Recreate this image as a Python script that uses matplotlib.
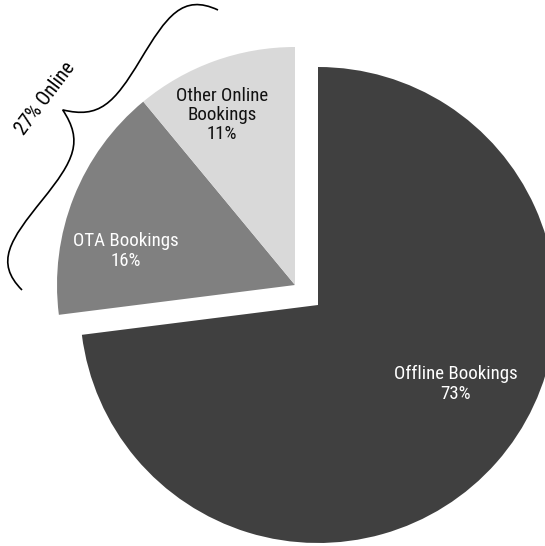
import matplotlib
matplotlib.use("Agg")
import matplotlib.pyplot as plt
from matplotlib.path import Path
from matplotlib.patches import PathPatch
from matplotlib.font_manager import FontProperties, fontManager
import numpy as np

# Booking channel shares (%)
categories = ["Offline Bookings", "OTA Bookings", "Other Online Bookings"]
shares = [73, 16, 11]
label_texts = ["Offline Bookings\n73%", "OTA Bookings\n16%", "Other Online\nBookings\n11%"]
online_label = "27% Online"

colors = ["#404040", "#808080", "#d9d9d9"]
text_colors = ["#ffffff", "#ffffff", "#111111"]


def pick_font():
    """Prefer a narrow sans face; fall back to Liberation Sans."""
    wanted = ["liberationsansnarrow-regular", "arialnarrow", "robotocondensed-regular",
              "opensans_condensed-regular", "opensanscondensed-regular",
              "opensans-condensedregular", "dejavusanscondensed."]
    files = {f.fname.lower().replace(" ", "").split("/")[-1]: f for f in fontManager.ttflist}
    for key in wanted:
        for fn, f in files.items():
            if fn.startswith(key) and "bold" not in fn and "italic" not in fn:
                return FontProperties(fname=f.fname), True
    for fn, f in files.items():
        if ("narrow" in fn or "condensed" in fn) and "bold" not in fn \
                and "italic" not in fn and "light" not in fn and "oblique" not in fn:
            return FontProperties(fname=f.fname), True
    return FontProperties(family="Liberation Sans"), False


fp, narrow = pick_font()
fsize = 13.6 if narrow else 12.2

W, H = 545, 546
fig = plt.figure(figsize=(W / 100, H / 100), dpi=100)
ax = fig.add_axes([0, 0, 1, 1])

center = (318, H - 305)
radius = 238
wedges, _ = ax.pie(shares, colors=colors, startangle=90, counterclock=False,
                   center=center, radius=radius, frame=False,
                   wedgeprops=dict(linewidth=0))

# pull the two online slices out together as one group
offset = (-23, 20)
for w in wedges[1:]:
    w.set_center((center[0] + offset[0], center[1] + offset[1]))

ax.set_xlim(0, W)
ax.set_ylim(0, H)
ax.set_aspect("equal")
ax.axis("off")

label_pos = [(456, H - 384), (126, H - 251), (222, H - 115)]
for txt, pos, tc in zip(label_texts, label_pos, text_colors):
    t = ax.text(pos[0], pos[1], txt, ha="center", va="center", multialignment="center",
                color=tc, linespacing=1.1 if narrow else 1.2)
    t.set_fontproperties(fp)
    t.set_fontsize(fsize)


# curly brace spanning the online slices
def brace(p0, p1, depth):
    p0 = np.asarray(p0, float)
    p1 = np.asarray(p1, float)
    d = p1 - p0
    L = np.hypot(*d)
    u = d / L
    n = np.array([-u[1], u[0]])
    if n @ np.array([-1.0, 1.0]) < 0:
        n = -n

    def P(s, t):
        return p0 + u * (s * L) + n * (t * depth)
    pts = [P(0, 0),
           P(0.02, 0.55), P(0.10, 0.55), P(0.25, 0.5),
           P(0.40, 0.45), P(0.46, 0.5), P(0.5, 1.0),
           P(0.54, 0.5), P(0.60, 0.45), P(0.75, 0.5),
           P(0.90, 0.55), P(0.98, 0.55), P(1, 0)]
    codes = [Path.MOVETO] + [Path.CURVE4] * 12
    return Path(pts, codes)


bp = brace((22, H - 290), (218, H - 10), 70)
ax.add_patch(PathPatch(bp, fill=False, edgecolor="black", lw=1.2))

t = ax.text(45, H - 98, online_label, rotation=53, ha="center", va="center", color="black")
t.set_fontproperties(fp)
t.set_fontsize(fsize + 0.6)

fig.savefig("out.png", dpi=100)
